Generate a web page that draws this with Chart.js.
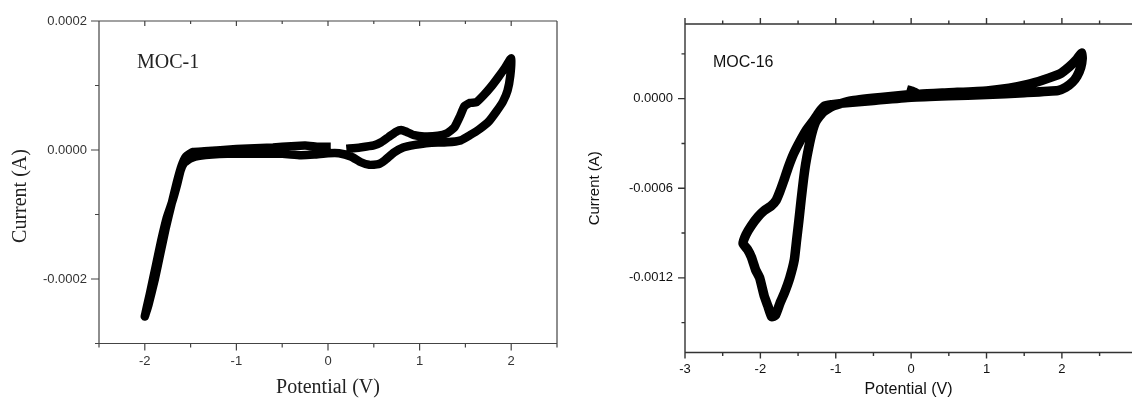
<!DOCTYPE html>
<html>
<head>
<meta charset="utf-8">
<script src="https://cdn.jsdelivr.net/npm/chart.js@4.4.1/dist/chart.umd.min.js"></script>
<style>
    html, body { margin: 0; padding: 0; background: #fff; overflow: hidden; }
    #left { position: absolute; left: 0; top: 0; width: 560px; height: 398px; }
    #right { position: absolute; left: 560px; top: 0; width: 572px; height: 398px; }
</style>
</head>
<body>
<div id="left"><canvas id="moc1"></canvas></div>
<div id="right"><canvas id="moc16"></canvas></div>
<script>
// MOC-1 cyclic voltammogram: potential (V) and current (A), in scan order
const moc1Potential = [
    0.20, 0.35, 0.50, 0.58, 0.66, 0.74, 0.80, 0.86, 0.94, 1.05, 1.20, 1.30, 1.38, 1.44, 1.49, 1.55, 1.62, 1.70, 1.78, 1.86, 1.93, 2.00,
    1.99, 1.96, 1.91, 1.84, 1.76, 1.65, 1.55, 1.45, 1.30, 1.10, 0.95, 0.82, 0.72, 0.62, 0.55, 0.45, 0.36, 0.25, 0.12, 0.00,
    -0.15, -0.30, -0.50, -0.80, -1.10, -1.40, -1.50, -1.57, -1.61, -1.65, -1.70, -1.76, -1.82, -1.88, -1.94, -2.00,
    -1.96, -1.89, -1.83, -1.77, -1.71, -1.65, -1.60, -1.55, -1.47, -1.35, -1.00, -0.60, -0.40, -0.25, -0.10, 0.03
];
const moc1Current = [
    0.000002, 0.000004, 0.000007, 0.000012, 0.000020, 0.000028, 0.000031, 0.000028, 0.000023, 0.000021, 0.000022, 0.000026, 0.000035, 0.000052, 0.000068, 0.000073, 0.000074, 0.000085, 0.000098, 0.000113, 0.000127, 0.000142,
    0.000115, 0.000092, 0.000075, 0.000060, 0.000045, 0.000032, 0.000023, 0.000015, 0.000012, 0.000011, 0.000008, 0.000004, -0.000004, -0.000016, -0.000022, -0.000023, -0.000019, -0.000010, -0.000005, -0.000005,
    -0.000007, -0.000008, -0.000006, -0.000006, -0.000006, -0.000009, -0.000013, -0.000020, -0.000032, -0.000055, -0.000080, -0.000105, -0.000140, -0.000180, -0.000220, -0.000258,
    -0.000240, -0.000200, -0.000160, -0.000120, -0.000085, -0.000050, -0.000025, -0.000010, -0.000003, -0.000002, 0.0000015, 0.000004, 0.000006, 0.000007, 0.000005, 0.000005
];

// MOC-16 cyclic voltammogram
const moc16Potential = [
    -0.06, 0.02, 0.10, 0.50, 1.00, 1.30, 1.55, 1.75, 1.97, 2.10, 2.20, 2.26,
    2.27, 2.25, 2.20, 2.14, 2.05, 1.95, 1.50, 1.00, 0.50, 0.00, -0.50, -0.90, -1.05, -1.15, -1.22, -1.30, -1.39, -1.48,
    -1.56, -1.63, -1.69, -1.74, -1.79, -1.86, -1.95, -2.03, -2.12, -2.19, -2.23,
    -2.17, -2.12, -2.06, -2.01, -1.95, -1.90, -1.85, -1.80, -1.74, -1.68, -1.61, -1.55, -1.52, -1.49, -1.46, -1.43,
    -1.40, -1.36, -1.31, -1.26, -1.17, -1.04, -0.80, -0.40, 0.00
];
const moc16Current = [
    0.000060, 0.000048, 0.000030, 0.000040, 0.000052, 0.000070, 0.000095, 0.000125, 0.000165, 0.000215, 0.000265, 0.000305,
    0.000270, 0.000210, 0.000150, 0.000110, 0.000075, 0.000055, 0.000040, 0.000027, 0.000020, 0.000010, -0.000012, -0.000030, -0.000040, -0.000050, -0.000090, -0.000150, -0.000210, -0.000290,
    -0.000370, -0.000460, -0.000550, -0.000620, -0.000680, -0.000720, -0.000750, -0.000790, -0.000850, -0.000910, -0.000970,
    -0.001010, -0.001060, -0.001150, -0.001200, -0.001320, -0.001390, -0.001460, -0.001450, -0.001370, -0.001300, -0.001200, -0.001080, -0.000950, -0.000820, -0.000680, -0.000550,
    -0.000440, -0.000330, -0.000220, -0.000150, -0.000090, -0.000050, -0.000015, 0.000008, 0.000028
];

// axis ticks (major ones get labels)
const moc1XMajor = [-2, -1, 0, 1, 2];
const moc1XMinor = [-2.5, -1.5, -0.5, 0.5, 1.5, 2.5];
const moc1YMajor = [0.0002, 0, -0.0002];
const moc1YMinor = [0.0001, -0.0001, -0.0003];
const moc16XMajor = [-3, -2, -1, 0, 1, 2];
const moc16XMinor = [-2.5, -1.5, -0.5, 0.5, 1.5, 2.5];
const moc16YMajor = [0, -0.0006, -0.0012];
const moc16YMinor = [0.0003, -0.0003, -0.0009, -0.0015];

Chart.defaults.font.family = "'Liberation Sans', Arial, sans-serif";

// box frame, tick marks and free text
const axisFrame = {
    id: 'axisFrame',
    afterDraw(chart, args, o) {
        const { ctx, chartArea: a } = chart;
        const xs = chart.scales.x, ys = chart.scales.y;
        ctx.save();
        ctx.strokeStyle = o.color;
        ctx.lineWidth = o.width;
        ctx.beginPath();
        ctx.moveTo(a.left, a.bottom); ctx.lineTo(a.left, a.top); ctx.lineTo(a.right, a.top);
        ctx.moveTo(a.left, a.bottom); ctx.lineTo(a.right, a.bottom);
        if (o.rightBorder) { ctx.moveTo(a.right, a.top); ctx.lineTo(a.right, a.bottom); }
        const xTick = (v, len, topLen) => {
            const px = xs.getPixelForValue(v);
            ctx.moveTo(px, a.bottom); ctx.lineTo(px, a.bottom + len);
            ctx.moveTo(px, a.top); ctx.lineTo(px, a.top + topLen);
        };
        const yTick = (v, len) => {
            const py = ys.getPixelForValue(v);
            ctx.moveTo(a.left, py); ctx.lineTo(a.left - len, py);
        };
        o.xMajor.forEach(v => xTick(v, o.major, o.topMajor));
        o.xMinor.forEach(v => xTick(v, o.minor, o.topMinor));
        o.yMajor.forEach(v => yTick(v, o.major + 1));
        o.yMinor.forEach(v => yTick(v, o.minor));
        ctx.stroke();
        (o.labels || []).forEach(t => {
            ctx.save();
            ctx.font = t.font;
            ctx.fillStyle = t.color;
            ctx.translate(t.x, t.y);
            ctx.rotate(t.rotation || 0);
            ctx.textAlign = t.align || 'left';
            ctx.textBaseline = t.baseline || 'alphabetic';
            ctx.fillText(t.text, 0, 0);
            ctx.restore();
        });
        ctx.restore();
    }
};

function toPoints(xs, ys) {
    return xs.map((x, i) => ({ x: x, y: ys[i] }));
}

function makeCV(id, cfg) {
    return new Chart(document.getElementById(id), {
        type: 'scatter',
        data: {
            datasets: [{
                data: toPoints(cfg.potential, cfg.current),
                showLine: true,
                borderColor: '#000',
                borderWidth: cfg.lineWidth,
                tension: 0.15,
                pointRadius: 0,
                fill: false
            }]
        },
        plugins: [axisFrame],
        options: {
            responsive: true,
            maintainAspectRatio: false,
            animation: false,
            events: [],
            layout: { padding: cfg.padding },
            plugins: {
                legend: { display: false },
                tooltip: { enabled: false },
                axisFrame: cfg.frame
            },
            scales: {
                x: {
                    type: 'linear',
                    min: cfg.xMin, max: cfg.xMax,
                    afterBuildTicks: s => { s.ticks = cfg.xMajor.map(v => ({ value: v })); },
                    afterFit: s => { s.height = cfg.xHeight; },
                    grid: { display: false, drawTicks: false },
                    border: { display: false },
                    ticks: { padding: cfg.xPad, color: cfg.tickColor, font: { size: 13 }, maxRotation: 0, autoSkip: false, callback: v => String(v) },
                    title: cfg.xTitle
                },
                y: {
                    type: 'linear',
                    min: cfg.yMin, max: cfg.yMax,
                    afterBuildTicks: s => { s.ticks = cfg.yMajor.map(v => ({ value: v })); },
                    afterFit: s => { s.width = cfg.yWidth; },
                    grid: { display: false, drawTicks: false },
                    border: { display: false },
                    ticks: { padding: 12, color: cfg.tickColor, font: { size: 13 }, autoSkip: false, callback: v => v.toFixed(4) },
                    title: cfg.yTitle
                }
            }
        }
    });
}

makeCV('moc1', {
    potential: moc1Potential, current: moc1Current, lineWidth: 8.5,
    xMin: -2.5, xMax: 2.5, yMin: -0.0003, yMax: 0.0002,
    xMajor: moc1XMajor, yMajor: moc1YMajor,
    padding: { left: 0, right: 3, top: 21, bottom: 0 },
    xHeight: 54.5, yWidth: 99, xPad: 10, tickColor: '#333',
    xTitle: { display: true, text: 'Potential (V)', color: '#222', font: { family: "'Liberation Serif', serif", size: 20, lineHeight: 1 }, padding: { top: 0, bottom: 0 } },
    yTitle: { display: false },
    frame: {
        color: '#444', width: 1.2, rightBorder: true,
        xMajor: moc1XMajor, xMinor: moc1XMinor, yMajor: moc1YMajor, yMinor: moc1YMinor,
        major: 7, minor: 4, topMajor: 5, topMinor: 3,
        labels: [
            { text: 'Current (A)', x: 20.5, y: 196, rotation: -Math.PI / 2, align: 'center', baseline: 'middle', font: "20px 'Liberation Serif'", color: '#222' },
            { text: 'MOC-1', x: 137, y: 68, font: "20px 'Liberation Serif'", color: '#222' }
        ]
    }
});

makeCV('moc16', {
    potential: moc16Potential, current: moc16Current, lineWidth: 9.5,
    xMin: -3, xMax: 2.93, yMin: -0.0017, yMax: 0.0005,
    xMajor: moc16XMajor, yMajor: moc16YMajor,
    padding: { left: 0, right: 0, top: 24, bottom: 0 },
    xHeight: 45.5, yWidth: 125, xPad: 9, tickColor: '#111',
    xTitle: { display: true, text: 'Potential (V)', color: '#111', font: { size: 16, lineHeight: 1 }, padding: { top: 0, bottom: 0 } },
    yTitle: { display: true, text: 'Current (A)', color: '#111', font: { size: 15, lineHeight: 1 }, padding: { top: 27, bottom: 0 } },
    frame: {
        color: '#333', width: 1.4, rightBorder: false,
        xMajor: moc16XMajor, xMinor: moc16XMinor, yMajor: moc16YMajor, yMinor: moc16YMinor,
        major: 6, minor: 3.5, topMajor: -6, topMinor: -3.5,
        labels: [
            { text: 'MOC-16', x: 153, y: 66.5, font: "16px 'Liberation Sans'", color: '#111' }
        ]
    }
});
</script>
</body>
</html>
